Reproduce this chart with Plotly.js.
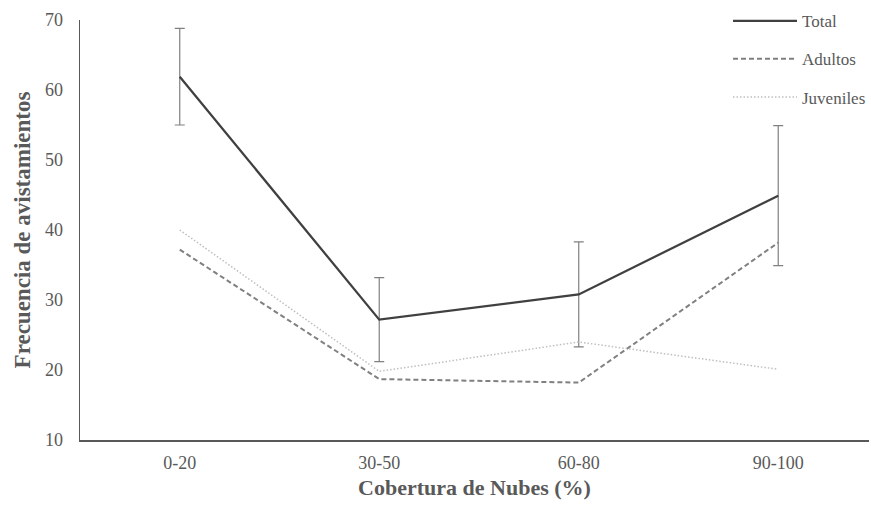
<!DOCTYPE html>
<html>
<head>
<meta charset="utf-8">
<script src="https://cdn.plot.ly/plotly-3.0.1.min.js"></script>
<style>html,body{margin:0;padding:0;background:#fff;}#chart{width:871px;height:506px;}</style>
</head>
<body>
<div id="chart"></div>
<script>
const categories = ["0-20", "30-50", "60-80", "90-100"];
const total = [61.9, 27.2, 30.8, 44.9];
const totalError = [6.9, 6.0, 7.5, 10.0];
const adultos = [37.2, 18.7, 18.2, 38.2];
const juveniles = [40.0, 19.8, 24.0, 20.1];
const yTicks = [10, 20, 30, 40, 50, 60, 70];

const traces = [
  {
    x: categories, y: total, name: "Total", type: "scatter", mode: "lines",
    line: {color: "#404040", width: 2.25},
    error_y: {type: "data", array: totalError, visible: true, color: "#808080", thickness: 1.2, width: 5},
    legendgroup: "a"
  },
  {
    x: categories, y: adultos, name: "Adultos", type: "scatter", mode: "lines",
    line: {color: "#808080", width: 2, dash: "5px,3px"},
    legendgroup: "b"
  },
  {
    x: categories, y: juveniles, name: "Juveniles", type: "scatter", mode: "lines",
    line: {color: "#bfbfbf", width: 1.5, dash: "1.5px,2px"},
    legendgroup: "c"
  }
];

const layout = {
  width: 871, height: 506,
  margin: {l: 80, r: 0, t: 20, b: 66},
  paper_bgcolor: "#ffffff", plot_bgcolor: "#ffffff",
  font: {family: "Liberation Serif, Times New Roman, serif", color: "#595959", size: 18},
  showlegend: true,
  legend: {
    x: 0.8215, xanchor: "left", y: 1.04, yanchor: "top",
    font: {size: 17, color: "#595959"},
    traceorder: "grouped", tracegroupgap: 13, itemwidth: 64,
    bgcolor: "rgba(0,0,0,0)"
  },
  xaxis: {
    type: "category", range: [-0.5, 3.455],
    showline: true, linecolor: "#595959", linewidth: 1.5,
    showgrid: false, zeroline: false, ticks: "", ticklabelstandoff: 6,
    tickfont: {size: 18, color: "#595959"},
    title: {text: "Cobertura de Nubes (%)", font: {size: 22, color: "#595959", weight: "bold"}, standoff: 7}
  },
  yaxis: {
    range: [10, 70], tickvals: yTicks,
    showline: true, linecolor: "#595959", linewidth: 1.5,
    showgrid: false, zeroline: false, ticks: "", ticklabelstandoff: 12,
    tickfont: {size: 18, color: "#595959"},
    title: {text: "Frecuencia de avistamientos", font: {size: 23, color: "#595959", weight: "bold"}, standoff: 8}
  }
};

Plotly.newPlot("chart", traces, layout, {displayModeBar: false, staticPlot: true});
</script>
</body>
</html>
